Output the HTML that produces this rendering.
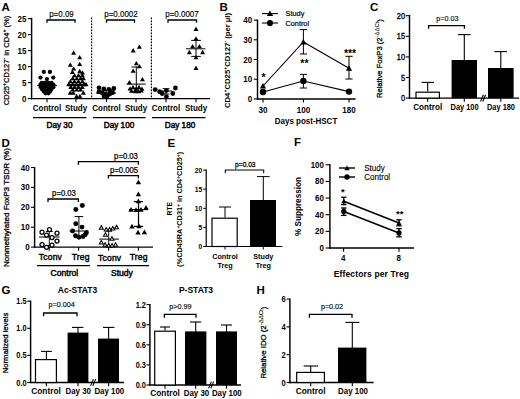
<!DOCTYPE html>
<html><head><meta charset="utf-8"><title>Figure</title>
<style>
html,body{margin:0;padding:0;background:#fff;}
svg{display:block;font-family:"Liberation Sans",sans-serif;}
text{fill:#000;}
</style></head><body>
<svg width="520" height="399" viewBox="0 0 520 399">
<rect width="520" height="399" fill="#fff"/>
<text transform="translate(1.50,10.50)" font-size="11.5" font-weight="bold" text-anchor="start" >A</text>
<text transform="translate(219.50,10.50)" font-size="11.5" font-weight="bold" text-anchor="start" >B</text>
<text transform="translate(370.00,10.50)" font-size="11.5" font-weight="bold" text-anchor="start" >C</text>
<text transform="translate(1.50,146.50)" font-size="11.5" font-weight="bold" text-anchor="start" >D</text>
<text transform="translate(167.50,146.50)" font-size="11.5" font-weight="bold" text-anchor="start" >E</text>
<text transform="translate(294.00,145.50)" font-size="11.5" font-weight="bold" text-anchor="start" >F</text>
<text transform="translate(1.50,293.50)" font-size="11.5" font-weight="bold" text-anchor="start" >G</text>
<text transform="translate(256.50,293.50)" font-size="11.5" font-weight="bold" text-anchor="start" >H</text>
<line x1="31.60" y1="17.80" x2="31.60" y2="99.25" stroke="#000" stroke-width="1.45" />
<line x1="30.95" y1="98.60" x2="210.00" y2="98.60" stroke="#000" stroke-width="1.45" />
<line x1="27.90" y1="98.60" x2="31.60" y2="98.60" stroke="#000" stroke-width="1.1" />
<text transform="translate(26.50,101.60) scale(0.94,1)" font-size="8.5" font-weight="bold" text-anchor="end" >0</text>
<line x1="27.90" y1="82.60" x2="31.60" y2="82.60" stroke="#000" stroke-width="1.1" />
<text transform="translate(26.50,85.60) scale(0.94,1)" font-size="8.5" font-weight="bold" text-anchor="end" >5</text>
<line x1="27.90" y1="66.60" x2="31.60" y2="66.60" stroke="#000" stroke-width="1.1" />
<text transform="translate(26.50,69.60) scale(0.94,1)" font-size="8.5" font-weight="bold" text-anchor="end" >10</text>
<line x1="27.90" y1="50.60" x2="31.60" y2="50.60" stroke="#000" stroke-width="1.1" />
<text transform="translate(26.50,53.60) scale(0.94,1)" font-size="8.5" font-weight="bold" text-anchor="end" >15</text>
<line x1="27.90" y1="34.60" x2="31.60" y2="34.60" stroke="#000" stroke-width="1.1" />
<text transform="translate(26.50,37.60) scale(0.94,1)" font-size="8.5" font-weight="bold" text-anchor="end" >20</text>
<line x1="27.90" y1="18.60" x2="31.60" y2="18.60" stroke="#000" stroke-width="1.1" />
<text transform="translate(26.50,21.60) scale(0.94,1)" font-size="8.5" font-weight="bold" text-anchor="end" >25</text>
<text transform="translate(9.30,105.25) rotate(-90)" font-size="8" font-weight="normal" text-anchor="start" textLength="89.5" lengthAdjust="spacingAndGlyphs" stroke="#000" stroke-width="0.25">CD25<tspan font-size="5.5" dy="-3">+</tspan><tspan dy="3">CD127</tspan><tspan font-size="5.5" dy="-3">-</tspan><tspan dy="3"> in CD4</tspan><tspan font-size="5.5" dy="-3">+</tspan><tspan dy="3"> (%)</tspan></text>
<line x1="91.60" y1="17.50" x2="91.60" y2="98.60" stroke="#000" stroke-width="1.2" stroke-dasharray="1.7,1.3"/>
<line x1="151.40" y1="17.50" x2="151.40" y2="98.60" stroke="#000" stroke-width="1.2" stroke-dasharray="1.7,1.3"/>
<line x1="47.00" y1="98.60" x2="47.00" y2="102.30" stroke="#000" stroke-width="1.1" />
<text transform="translate(47.00,111.30) scale(0.94,1)" font-size="8.5" font-weight="bold" text-anchor="middle" >Control</text>
<line x1="76.00" y1="98.60" x2="76.00" y2="102.30" stroke="#000" stroke-width="1.1" />
<text transform="translate(76.00,111.30) scale(0.94,1)" font-size="8.5" font-weight="bold" text-anchor="middle" >Study</text>
<line x1="106.50" y1="98.60" x2="106.50" y2="102.30" stroke="#000" stroke-width="1.1" />
<text transform="translate(106.50,111.30) scale(0.94,1)" font-size="8.5" font-weight="bold" text-anchor="middle" >Control</text>
<line x1="136.00" y1="98.60" x2="136.00" y2="102.30" stroke="#000" stroke-width="1.1" />
<text transform="translate(136.00,111.30) scale(0.94,1)" font-size="8.5" font-weight="bold" text-anchor="middle" >Study</text>
<line x1="166.00" y1="98.60" x2="166.00" y2="102.30" stroke="#000" stroke-width="1.1" />
<text transform="translate(166.00,111.30) scale(0.94,1)" font-size="8.5" font-weight="bold" text-anchor="middle" >Control</text>
<line x1="196.00" y1="98.60" x2="196.00" y2="102.30" stroke="#000" stroke-width="1.1" />
<text transform="translate(196.00,111.30) scale(0.94,1)" font-size="8.5" font-weight="bold" text-anchor="middle" >Study</text>
<line x1="33.00" y1="117.70" x2="86.50" y2="117.70" stroke="#000" stroke-width="1.25" />
<text transform="translate(59.50,128.30)" font-size="8.2" font-weight="normal" text-anchor="middle" stroke="#000" stroke-width="0.45">Day 30</text>
<line x1="93.00" y1="117.70" x2="145.50" y2="117.70" stroke="#000" stroke-width="1.25" />
<text transform="translate(119.00,128.30)" font-size="8.2" font-weight="normal" text-anchor="middle" stroke="#000" stroke-width="0.45">Day 100</text>
<line x1="152.00" y1="117.70" x2="205.50" y2="117.70" stroke="#000" stroke-width="1.25" />
<text transform="translate(180.00,128.30)" font-size="8.2" font-weight="normal" text-anchor="middle" stroke="#000" stroke-width="0.45">Day 180</text>
<text transform="translate(61.50,16.60) scale(0.95,1)" font-size="8.4" font-weight="normal" text-anchor="middle" stroke="#000" stroke-width="0.15">p=0.09</text>
<polyline points="47.00,22.80 47.00,20.00 75.00,20.00 75.00,22.80" fill="none" stroke="#000" stroke-width="1.3"/>
<text transform="translate(121.00,16.60) scale(0.95,1)" font-size="8.4" font-weight="normal" text-anchor="middle" stroke="#000" stroke-width="0.15">p=0.0002</text>
<polyline points="106.50,22.80 106.50,20.00 134.50,20.00 134.50,22.80" fill="none" stroke="#000" stroke-width="1.3"/>
<text transform="translate(182.00,16.60) scale(0.95,1)" font-size="8.4" font-weight="normal" text-anchor="middle" stroke="#000" stroke-width="0.15">p=0.0007</text>
<polyline points="168.00,22.80 168.00,20.00 196.50,20.00 196.50,22.80" fill="none" stroke="#000" stroke-width="1.3"/>
<circle cx="43.80" cy="71.90" r="2.15" fill="#000"/>
<circle cx="49.90" cy="71.90" r="2.15" fill="#000"/>
<circle cx="40.50" cy="77.60" r="2.15" fill="#000"/>
<circle cx="53.30" cy="77.60" r="2.15" fill="#000"/>
<circle cx="46.90" cy="79.10" r="2.15" fill="#000"/>
<circle cx="41.60" cy="82.80" r="2.15" fill="#000"/>
<circle cx="44.90" cy="82.80" r="2.15" fill="#000"/>
<circle cx="48.20" cy="82.80" r="2.15" fill="#000"/>
<circle cx="51.50" cy="82.80" r="2.15" fill="#000"/>
<circle cx="40.30" cy="85.00" r="2.15" fill="#000"/>
<circle cx="43.60" cy="85.00" r="2.15" fill="#000"/>
<circle cx="46.90" cy="85.00" r="2.15" fill="#000"/>
<circle cx="50.20" cy="85.00" r="2.15" fill="#000"/>
<circle cx="53.50" cy="85.00" r="2.15" fill="#000"/>
<circle cx="40.90" cy="87.20" r="2.15" fill="#000"/>
<circle cx="44.10" cy="87.20" r="2.15" fill="#000"/>
<circle cx="47.30" cy="87.20" r="2.15" fill="#000"/>
<circle cx="50.50" cy="87.20" r="2.15" fill="#000"/>
<circle cx="53.30" cy="87.20" r="2.15" fill="#000"/>
<circle cx="42.20" cy="89.40" r="2.15" fill="#000"/>
<circle cx="45.20" cy="89.40" r="2.15" fill="#000"/>
<circle cx="48.20" cy="89.40" r="2.15" fill="#000"/>
<circle cx="51.20" cy="89.40" r="2.15" fill="#000"/>
<circle cx="44.00" cy="91.50" r="2.15" fill="#000"/>
<circle cx="47.00" cy="91.50" r="2.15" fill="#000"/>
<circle cx="50.00" cy="91.50" r="2.15" fill="#000"/>
<circle cx="45.60" cy="93.30" r="2.15" fill="#000"/>
<circle cx="48.40" cy="93.30" r="2.15" fill="#000"/>
<line x1="37.20" y1="85.60" x2="57.00" y2="85.60" stroke="#000" stroke-width="1.0" />
<polygon points="73.60,50.39 71.10,54.77 76.10,54.77" fill="#000"/>
<polygon points="79.70,54.89 77.20,59.27 82.20,59.27" fill="#000"/>
<polygon points="70.30,62.39 67.80,66.77 72.80,66.77" fill="#000"/>
<polygon points="79.70,61.69 77.20,66.07 82.20,66.07" fill="#000"/>
<polygon points="73.60,66.19 71.10,70.57 76.10,70.57" fill="#000"/>
<polygon points="72.40,69.59 69.90,73.97 74.90,73.97" fill="#000"/>
<polygon points="79.70,68.79 77.20,73.17 82.20,73.17" fill="#000"/>
<polygon points="82.50,70.19 80.00,74.57 85.00,74.57" fill="#000"/>
<polygon points="74.50,72.99 72.00,77.37 77.00,77.37" fill="#000"/>
<polygon points="78.50,72.99 76.00,77.37 81.00,77.37" fill="#000"/>
<polygon points="82.30,72.99 79.80,77.37 84.80,77.37" fill="#000"/>
<polygon points="72.80,75.99 70.30,80.37 75.30,80.37" fill="#000"/>
<polygon points="76.80,75.99 74.30,80.37 79.30,80.37" fill="#000"/>
<polygon points="80.60,75.99 78.10,80.37 83.10,80.37" fill="#000"/>
<polygon points="83.40,75.99 80.90,80.37 85.90,80.37" fill="#000"/>
<polygon points="70.40,78.99 67.90,83.37 72.90,83.37" fill="#000"/>
<polygon points="74.40,78.99 71.90,83.37 76.90,83.37" fill="#000"/>
<polygon points="78.40,78.99 75.90,83.37 80.90,83.37" fill="#000"/>
<polygon points="82.40,78.99 79.90,83.37 84.90,83.37" fill="#000"/>
<polygon points="68.80,81.79 66.30,86.17 71.30,86.17" fill="#000"/>
<polygon points="72.60,81.79 70.10,86.17 75.10,86.17" fill="#000"/>
<polygon points="76.40,81.79 73.90,86.17 78.90,86.17" fill="#000"/>
<polygon points="80.20,81.79 77.70,86.17 82.70,86.17" fill="#000"/>
<polygon points="84.00,81.79 81.50,86.17 86.50,86.17" fill="#000"/>
<polygon points="86.00,81.79 83.50,86.17 88.50,86.17" fill="#000"/>
<polygon points="70.80,84.59 68.30,88.97 73.30,88.97" fill="#000"/>
<polygon points="74.60,84.59 72.10,88.97 77.10,88.97" fill="#000"/>
<polygon points="78.40,84.59 75.90,88.97 80.90,88.97" fill="#000"/>
<polygon points="82.20,84.59 79.70,88.97 84.70,88.97" fill="#000"/>
<polygon points="72.80,87.19 70.30,91.57 75.30,91.57" fill="#000"/>
<polygon points="76.80,87.19 74.30,91.57 79.30,91.57" fill="#000"/>
<polygon points="80.60,87.19 78.10,91.57 83.10,91.57" fill="#000"/>
<polygon points="70.30,90.29 67.80,94.67 72.80,94.67" fill="#000"/>
<polygon points="73.30,90.49 70.80,94.87 75.80,94.87" fill="#000"/>
<polygon points="83.40,90.29 80.90,94.67 85.90,94.67" fill="#000"/>
<polygon points="76.60,93.79 74.10,98.17 79.10,98.17" fill="#000"/>
<polygon points="79.90,93.79 77.40,98.17 82.40,98.17" fill="#000"/>
<line x1="66.90" y1="84.40" x2="86.40" y2="84.40" stroke="#000" stroke-width="1.0" />
<circle cx="99.00" cy="87.80" r="2.4" fill="#000"/>
<circle cx="103.80" cy="88.90" r="2.4" fill="#000"/>
<circle cx="108.80" cy="89.40" r="2.4" fill="#000"/>
<circle cx="113.80" cy="88.50" r="2.4" fill="#000"/>
<circle cx="99.00" cy="91.90" r="2.4" fill="#000"/>
<circle cx="102.00" cy="92.70" r="2.4" fill="#000"/>
<circle cx="112.60" cy="92.70" r="2.4" fill="#000"/>
<circle cx="105.00" cy="93.90" r="2.4" fill="#000"/>
<circle cx="109.60" cy="94.20" r="2.4" fill="#000"/>
<circle cx="106.90" cy="96.20" r="2.4" fill="#000"/>
<circle cx="104.00" cy="96.00" r="2.4" fill="#000"/>
<circle cx="110.50" cy="91.50" r="2.4" fill="#000"/>
<line x1="96.00" y1="93.00" x2="116.30" y2="93.00" stroke="#000" stroke-width="1.0" />
<line x1="106.30" y1="90.50" x2="106.30" y2="95.50" stroke="#000" stroke-width="0.9" />
<line x1="102.80" y1="90.50" x2="109.80" y2="90.50" stroke="#000" stroke-width="0.9" />
<line x1="102.80" y1="95.50" x2="109.80" y2="95.50" stroke="#000" stroke-width="0.9" />
<polygon points="139.40,44.39 136.90,48.77 141.90,48.77" fill="#000"/>
<polygon points="133.20,48.09 130.70,52.47 135.70,52.47" fill="#000"/>
<polygon points="136.30,60.89 133.80,65.27 138.80,65.27" fill="#000"/>
<polygon points="139.40,63.89 136.90,68.27 141.90,68.27" fill="#000"/>
<polygon points="133.20,68.39 130.70,72.77 135.70,72.77" fill="#000"/>
<polygon points="142.40,76.99 139.90,81.37 144.90,81.37" fill="#000"/>
<polygon points="129.40,79.99 126.90,84.37 131.90,84.37" fill="#000"/>
<polygon points="130.00,86.19 127.50,90.57 132.50,90.57" fill="#000"/>
<polygon points="133.00,84.79 130.50,89.17 135.50,89.17" fill="#000"/>
<polygon points="136.00,86.39 133.50,90.77 138.50,90.77" fill="#000"/>
<polygon points="139.00,84.79 136.50,89.17 141.50,89.17" fill="#000"/>
<polygon points="142.00,86.39 139.50,90.77 144.50,90.77" fill="#000"/>
<polygon points="131.50,88.39 129.00,92.77 134.00,92.77" fill="#000"/>
<polygon points="135.00,88.79 132.50,93.17 137.50,93.17" fill="#000"/>
<polygon points="138.50,88.79 136.00,93.17 141.00,93.17" fill="#000"/>
<polygon points="141.20,88.19 138.70,92.57 143.70,92.57" fill="#000"/>
<line x1="126.60" y1="84.10" x2="145.70" y2="84.10" stroke="#000" stroke-width="1.0" />
<line x1="136.30" y1="67.00" x2="136.30" y2="92.00" stroke="#000" stroke-width="1.0" />
<line x1="131.50" y1="67.00" x2="141.10" y2="67.00" stroke="#000" stroke-width="1.0" />
<line x1="131.50" y1="92.00" x2="141.10" y2="92.00" stroke="#000" stroke-width="1.0" />
<circle cx="155.20" cy="89.60" r="2.4" fill="#000"/>
<circle cx="175.40" cy="88.00" r="2.4" fill="#000"/>
<circle cx="159.60" cy="91.70" r="2.4" fill="#000"/>
<circle cx="166.40" cy="90.60" r="2.4" fill="#000"/>
<circle cx="162.20" cy="93.50" r="2.4" fill="#000"/>
<circle cx="172.80" cy="93.50" r="2.4" fill="#000"/>
<circle cx="166.40" cy="96.60" r="2.4" fill="#000"/>
<line x1="160.00" y1="91.00" x2="172.00" y2="91.00" stroke="#000" stroke-width="1.0" />
<line x1="166.00" y1="88.60" x2="166.00" y2="94.00" stroke="#000" stroke-width="0.9" />
<line x1="162.50" y1="88.60" x2="169.50" y2="88.60" stroke="#000" stroke-width="0.9" />
<line x1="162.50" y1="94.00" x2="169.50" y2="94.00" stroke="#000" stroke-width="0.9" />
<polygon points="196.00,26.59 193.50,30.97 198.50,30.97" fill="#000"/>
<polygon points="196.00,36.19 193.50,40.57 198.50,40.57" fill="#000"/>
<polygon points="192.60,43.99 190.10,48.37 195.10,48.37" fill="#000"/>
<polygon points="199.40,43.99 196.90,48.37 201.90,48.37" fill="#000"/>
<polygon points="189.30,49.79 186.80,54.17 191.80,54.17" fill="#000"/>
<polygon points="202.60,49.79 200.10,54.17 205.10,54.17" fill="#000"/>
<polygon points="196.00,54.99 193.50,59.37 198.50,59.37" fill="#000"/>
<polygon points="196.00,65.59 193.50,69.97 198.50,69.97" fill="#000"/>
<line x1="186.00" y1="48.80" x2="205.30" y2="48.80" stroke="#000" stroke-width="1.0" />
<line x1="196.00" y1="40.40" x2="196.00" y2="56.40" stroke="#000" stroke-width="1.0" />
<line x1="191.20" y1="40.40" x2="200.80" y2="40.40" stroke="#000" stroke-width="1.0" />
<line x1="191.20" y1="56.40" x2="200.80" y2="56.40" stroke="#000" stroke-width="1.0" />
<line x1="257.50" y1="19.50" x2="257.50" y2="99.55" stroke="#000" stroke-width="1.45" />
<line x1="256.85" y1="98.90" x2="355.60" y2="98.90" stroke="#000" stroke-width="1.45" />
<line x1="253.80" y1="98.90" x2="257.50" y2="98.90" stroke="#000" stroke-width="1.1" />
<text transform="translate(252.20,101.90) scale(0.94,1)" font-size="8.5" font-weight="bold" text-anchor="end" >0</text>
<line x1="253.80" y1="79.20" x2="257.50" y2="79.20" stroke="#000" stroke-width="1.1" />
<text transform="translate(252.20,82.20) scale(0.94,1)" font-size="8.5" font-weight="bold" text-anchor="end" >10</text>
<line x1="253.80" y1="59.50" x2="257.50" y2="59.50" stroke="#000" stroke-width="1.1" />
<text transform="translate(252.20,62.50) scale(0.94,1)" font-size="8.5" font-weight="bold" text-anchor="end" >20</text>
<line x1="253.80" y1="39.80" x2="257.50" y2="39.80" stroke="#000" stroke-width="1.1" />
<text transform="translate(252.20,42.80) scale(0.94,1)" font-size="8.5" font-weight="bold" text-anchor="end" >30</text>
<line x1="253.80" y1="20.10" x2="257.50" y2="20.10" stroke="#000" stroke-width="1.1" />
<text transform="translate(252.20,23.10) scale(0.94,1)" font-size="8.5" font-weight="bold" text-anchor="end" >40</text>
<line x1="263.00" y1="98.90" x2="263.00" y2="102.60" stroke="#000" stroke-width="1.1" />
<text transform="translate(263.00,112.70) scale(0.94,1)" font-size="8.6" font-weight="bold" text-anchor="middle" >30</text>
<line x1="303.40" y1="98.90" x2="303.40" y2="102.60" stroke="#000" stroke-width="1.1" />
<text transform="translate(303.40,112.70) scale(0.94,1)" font-size="8.6" font-weight="bold" text-anchor="middle" >100</text>
<line x1="349.00" y1="98.90" x2="349.00" y2="102.60" stroke="#000" stroke-width="1.1" />
<text transform="translate(349.00,112.70) scale(0.94,1)" font-size="8.6" font-weight="bold" text-anchor="middle" >180</text>
<text transform="translate(306.00,124.10) scale(0.94,1)" font-size="8.5" font-weight="bold" text-anchor="middle" >Days post-HSCT</text>
<text transform="translate(230.20,108.00) rotate(-90)" font-size="8" font-weight="bold" text-anchor="start" textLength="95" lengthAdjust="spacingAndGlyphs">CD4<tspan font-size="5.5" dy="-3">+</tspan><tspan dy="3">CD25</tspan><tspan font-size="5.5" dy="-3">+</tspan><tspan dy="3">CD127</tspan><tspan font-size="5.5" dy="-3">-</tspan><tspan dy="3"> (per &#181;l)</tspan></text>
<line x1="262.00" y1="13.60" x2="278.00" y2="13.60" stroke="#000" stroke-width="1.1" />
<polygon points="270.00,10.52 266.80,16.12 273.20,16.12" fill="#000"/>
<line x1="262.00" y1="23.00" x2="278.00" y2="23.00" stroke="#000" stroke-width="1.1" />
<circle cx="270.00" cy="23.00" r="3.1" fill="#000"/>
<text transform="translate(285.50,16.30)" font-size="7.3" font-weight="normal" text-anchor="start" letter-spacing="0.05" stroke="#000" stroke-width="0.2">Study</text>
<text transform="translate(285.50,25.70)" font-size="7.3" font-weight="normal" text-anchor="start" stroke="#000" stroke-width="0.2">Control</text>
<polyline points="263,86 303.4,42 349,68.3" fill="none" stroke="#000" stroke-width="1.1"/>
<polyline points="263,92 303.4,81 349,91.6" fill="none" stroke="#000" stroke-width="1.1"/>
<line x1="303.40" y1="29.60" x2="303.40" y2="54.00" stroke="#000" stroke-width="1.0" />
<line x1="299.80" y1="29.60" x2="307.00" y2="29.60" stroke="#000" stroke-width="1.0" />
<line x1="299.80" y1="54.00" x2="307.00" y2="54.00" stroke="#000" stroke-width="1.0" />
<line x1="349.00" y1="56.30" x2="349.00" y2="79.00" stroke="#000" stroke-width="1.0" />
<line x1="345.40" y1="56.30" x2="352.60" y2="56.30" stroke="#000" stroke-width="1.0" />
<line x1="345.40" y1="79.00" x2="352.60" y2="79.00" stroke="#000" stroke-width="1.0" />
<line x1="303.40" y1="74.40" x2="303.40" y2="88.00" stroke="#000" stroke-width="1.0" />
<line x1="299.80" y1="74.40" x2="307.00" y2="74.40" stroke="#000" stroke-width="1.0" />
<line x1="299.80" y1="88.00" x2="307.00" y2="88.00" stroke="#000" stroke-width="1.0" />
<polygon points="263.00,83.02 259.90,88.44 266.10,88.44" fill="#000"/>
<polygon points="303.40,39.02 300.30,44.44 306.50,44.44" fill="#000"/>
<polygon points="349.00,65.32 345.90,70.74 352.10,70.74" fill="#000"/>
<circle cx="263.00" cy="92.00" r="3.2" fill="#000"/>
<circle cx="303.40" cy="81.00" r="3.2" fill="#000"/>
<circle cx="349.00" cy="91.60" r="3.2" fill="#000"/>
<text transform="translate(263.60,80.50)" font-size="10.5" font-weight="bold" text-anchor="middle" >*</text>
<text transform="translate(304.40,66.50)" font-size="10.5" font-weight="bold" text-anchor="middle" >**</text>
<text transform="translate(350.00,57.30)" font-size="10.5" font-weight="bold" text-anchor="middle" >***</text>
<line x1="409.50" y1="15.00" x2="409.50" y2="98.75" stroke="#000" stroke-width="1.45" />
<line x1="408.85" y1="98.10" x2="519.00" y2="98.10" stroke="#000" stroke-width="1.45" />
<line x1="405.80" y1="98.10" x2="409.50" y2="98.10" stroke="#000" stroke-width="1.1" />
<text transform="translate(405.00,101.10) scale(0.86,1)" font-size="8.6" font-weight="normal" text-anchor="end" stroke="#000" stroke-width="0.35">0</text>
<line x1="405.80" y1="77.50" x2="409.50" y2="77.50" stroke="#000" stroke-width="1.1" />
<text transform="translate(405.00,80.50) scale(0.86,1)" font-size="8.6" font-weight="normal" text-anchor="end" stroke="#000" stroke-width="0.35">5</text>
<line x1="405.80" y1="56.90" x2="409.50" y2="56.90" stroke="#000" stroke-width="1.1" />
<text transform="translate(405.00,59.90) scale(0.86,1)" font-size="8.6" font-weight="normal" text-anchor="end" stroke="#000" stroke-width="0.35">10</text>
<line x1="405.80" y1="36.30" x2="409.50" y2="36.30" stroke="#000" stroke-width="1.1" />
<text transform="translate(405.00,39.30) scale(0.86,1)" font-size="8.6" font-weight="normal" text-anchor="end" stroke="#000" stroke-width="0.35">15</text>
<line x1="405.80" y1="15.70" x2="409.50" y2="15.70" stroke="#000" stroke-width="1.1" />
<text transform="translate(405.00,18.70) scale(0.86,1)" font-size="8.6" font-weight="normal" text-anchor="end" stroke="#000" stroke-width="0.35">20</text>
<text transform="translate(382.00,98.10) rotate(-90)" font-size="8" font-weight="normal" text-anchor="start" textLength="79" lengthAdjust="spacingAndGlyphs" stroke="#000" stroke-width="0.3">Relative FoxP3 (2<tspan font-size="6.2" dy="-3" stroke-width="0.1">-&#916;&#916;Ct</tspan><tspan dy="3">)</tspan></text>
<rect x="416.00" y="92.20" width="23.40" height="5.90" fill="#fff" stroke="#000" stroke-width="1.2"/>
<line x1="427.70" y1="82.40" x2="427.70" y2="91.60" stroke="#000" stroke-width="1.1" />
<line x1="421.60" y1="82.40" x2="434.00" y2="82.40" stroke="#000" stroke-width="1.1" />
<rect x="451.60" y="60.00" width="25.40" height="38.10" fill="#000"/>
<line x1="464.30" y1="34.60" x2="464.30" y2="60.00" stroke="#000" stroke-width="1.1" />
<line x1="458.00" y1="34.60" x2="470.50" y2="34.60" stroke="#000" stroke-width="1.1" />
<rect x="488.00" y="68.00" width="25.60" height="30.10" fill="#000"/>
<line x1="500.80" y1="51.60" x2="500.80" y2="68.00" stroke="#000" stroke-width="1.1" />
<line x1="494.40" y1="51.60" x2="507.00" y2="51.60" stroke="#000" stroke-width="1.1" />
<line x1="427.70" y1="98.10" x2="427.70" y2="101.80" stroke="#000" stroke-width="1.1" />
<text transform="translate(427.70,109.70) scale(0.95,1)" font-size="8.6" font-weight="bold" text-anchor="middle" >Control</text>
<line x1="464.30" y1="98.10" x2="464.30" y2="101.80" stroke="#000" stroke-width="1.1" />
<text transform="translate(464.60,109.70) scale(0.86,1)" font-size="8.6" font-weight="bold" text-anchor="middle" >Day 100</text>
<line x1="500.80" y1="98.10" x2="500.80" y2="101.80" stroke="#000" stroke-width="1.1" />
<text transform="translate(501.00,109.70) scale(0.86,1)" font-size="8.6" font-weight="bold" text-anchor="middle" >Day 180</text>
<line x1="480.60" y1="101.50" x2="483.40" y2="94.70" stroke="#000" stroke-width="1.1" />
<line x1="482.80" y1="101.50" x2="485.60" y2="94.70" stroke="#000" stroke-width="1.1" />
<text transform="translate(447.30,21.00) scale(0.9,1)" font-size="8" font-weight="normal" text-anchor="middle" stroke="#000" stroke-width="0.15">p=0.03</text>
<polyline points="428.60,28.80 428.60,25.60 464.40,25.60 464.40,28.80" fill="none" stroke="#000" stroke-width="1.3"/>
<line x1="34.60" y1="167.00" x2="34.60" y2="247.75" stroke="#000" stroke-width="1.45" />
<line x1="33.95" y1="247.10" x2="153.00" y2="247.10" stroke="#000" stroke-width="1.45" />
<line x1="30.90" y1="247.10" x2="34.60" y2="247.10" stroke="#000" stroke-width="1.1" />
<text transform="translate(29.70,250.10) scale(0.94,1)" font-size="8.5" font-weight="bold" text-anchor="end" >0</text>
<line x1="30.90" y1="227.20" x2="34.60" y2="227.20" stroke="#000" stroke-width="1.1" />
<text transform="translate(29.70,230.20) scale(0.94,1)" font-size="8.5" font-weight="bold" text-anchor="end" >10</text>
<line x1="30.90" y1="207.30" x2="34.60" y2="207.30" stroke="#000" stroke-width="1.1" />
<text transform="translate(29.70,210.30) scale(0.94,1)" font-size="8.5" font-weight="bold" text-anchor="end" >20</text>
<line x1="30.90" y1="187.40" x2="34.60" y2="187.40" stroke="#000" stroke-width="1.1" />
<text transform="translate(29.70,190.40) scale(0.94,1)" font-size="8.5" font-weight="bold" text-anchor="end" >30</text>
<line x1="30.90" y1="167.50" x2="34.60" y2="167.50" stroke="#000" stroke-width="1.1" />
<text transform="translate(29.70,170.50) scale(0.94,1)" font-size="8.5" font-weight="bold" text-anchor="end" >40</text>
<text transform="translate(8.60,267.00) rotate(-90)" font-size="8" font-weight="normal" text-anchor="start" textLength="119" lengthAdjust="spacingAndGlyphs" stroke="#000" stroke-width="0.3">Nonmethylated FoxP3 TSDR (%)</text>
<line x1="49.20" y1="247.10" x2="49.20" y2="250.80" stroke="#000" stroke-width="1.1" />
<line x1="78.60" y1="247.10" x2="78.60" y2="250.80" stroke="#000" stroke-width="1.1" />
<line x1="108.60" y1="247.10" x2="108.60" y2="250.80" stroke="#000" stroke-width="1.1" />
<line x1="138.40" y1="247.10" x2="138.40" y2="250.80" stroke="#000" stroke-width="1.1" />
<text transform="translate(50.40,259.70)" font-size="8.6" font-weight="normal" text-anchor="middle" letter-spacing="0.15" stroke="#000" stroke-width="0.4">Tconv</text>
<text transform="translate(80.70,259.50)" font-size="8.6" font-weight="normal" text-anchor="middle" letter-spacing="0.15" stroke="#000" stroke-width="0.4">Treg</text>
<text transform="translate(109.70,260.70)" font-size="8.6" font-weight="normal" text-anchor="middle" letter-spacing="0.15" stroke="#000" stroke-width="0.4">Tconv</text>
<text transform="translate(138.60,259.50)" font-size="8.6" font-weight="normal" text-anchor="middle" letter-spacing="0.15" stroke="#000" stroke-width="0.4">Treg</text>
<line x1="37.00" y1="265.70" x2="90.00" y2="265.70" stroke="#000" stroke-width="1.25" />
<line x1="97.00" y1="265.70" x2="149.00" y2="265.70" stroke="#000" stroke-width="1.25" />
<text transform="translate(64.40,276.00)" font-size="8.6" font-weight="normal" text-anchor="middle" stroke="#000" stroke-width="0.45">Control</text>
<text transform="translate(121.90,276.00)" font-size="8.6" font-weight="normal" text-anchor="middle" stroke="#000" stroke-width="0.45">Study</text>
<text transform="translate(64.00,196.00) scale(0.93,1)" font-size="8.3" font-weight="normal" text-anchor="middle" stroke="#000" stroke-width="0.25">p=0.03</text>
<polyline points="48.00,202.00 48.00,199.00 78.40,199.00 78.40,202.00" fill="none" stroke="#000" stroke-width="1.3"/>
<text transform="translate(126.00,159.30) scale(0.93,1)" font-size="8.3" font-weight="normal" text-anchor="middle" stroke="#000" stroke-width="0.25">p=0.03</text>
<polyline points="78.40,164.80 78.40,161.60 138.40,161.60 138.40,164.80" fill="none" stroke="#000" stroke-width="1.3"/>
<text transform="translate(124.00,173.30) scale(0.93,1)" font-size="8.3" font-weight="normal" text-anchor="middle" stroke="#000" stroke-width="0.25">p=0.005</text>
<polyline points="108.40,178.60 108.40,175.60 138.40,175.60 138.40,178.60" fill="none" stroke="#000" stroke-width="1.3"/>
<line x1="39.00" y1="237.00" x2="59.60" y2="237.00" stroke="#000" stroke-width="1.0" />
<line x1="49.30" y1="231.50" x2="49.30" y2="245.50" stroke="#000" stroke-width="0.9" />
<line x1="45.80" y1="231.50" x2="52.80" y2="231.50" stroke="#000" stroke-width="0.9" />
<line x1="45.80" y1="245.50" x2="52.80" y2="245.50" stroke="#000" stroke-width="0.9" />
<circle cx="49.50" cy="229.50" r="2.0" fill="#fff" stroke="#000" stroke-width="1.25"/>
<circle cx="42.00" cy="232.20" r="2.0" fill="#fff" stroke="#000" stroke-width="1.25"/>
<circle cx="57.00" cy="233.20" r="2.0" fill="#fff" stroke="#000" stroke-width="1.25"/>
<circle cx="46.50" cy="235.00" r="2.0" fill="#fff" stroke="#000" stroke-width="1.25"/>
<circle cx="52.00" cy="237.50" r="2.0" fill="#fff" stroke="#000" stroke-width="1.25"/>
<circle cx="57.00" cy="241.00" r="2.0" fill="#fff" stroke="#000" stroke-width="1.25"/>
<circle cx="42.00" cy="244.50" r="2.0" fill="#fff" stroke="#000" stroke-width="1.25"/>
<circle cx="52.00" cy="245.00" r="2.0" fill="#fff" stroke="#000" stroke-width="1.25"/>
<circle cx="46.50" cy="247.30" r="2.0" fill="#fff" stroke="#000" stroke-width="1.25"/>
<line x1="69.50" y1="231.00" x2="88.40" y2="231.00" stroke="#000" stroke-width="1.0" />
<line x1="78.90" y1="216.60" x2="78.90" y2="237.00" stroke="#000" stroke-width="1.0" />
<line x1="74.60" y1="216.60" x2="83.20" y2="216.60" stroke="#000" stroke-width="1.0" />
<line x1="74.60" y1="237.00" x2="83.20" y2="237.00" stroke="#000" stroke-width="1.0" />
<circle cx="82.30" cy="205.50" r="2.45" fill="#000"/>
<circle cx="75.80" cy="209.50" r="2.45" fill="#000"/>
<circle cx="75.80" cy="223.70" r="2.45" fill="#000"/>
<circle cx="82.00" cy="227.10" r="2.45" fill="#000"/>
<circle cx="72.60" cy="230.90" r="2.45" fill="#000"/>
<circle cx="86.40" cy="232.80" r="2.45" fill="#000"/>
<circle cx="75.50" cy="235.70" r="2.45" fill="#000"/>
<circle cx="78.90" cy="237.20" r="2.45" fill="#000"/>
<circle cx="83.00" cy="236.50" r="2.45" fill="#000"/>
<circle cx="85.20" cy="234.80" r="2.45" fill="#000"/>
<line x1="99.30" y1="239.10" x2="118.90" y2="239.10" stroke="#000" stroke-width="1.0" />
<line x1="108.70" y1="231.00" x2="108.70" y2="246.60" stroke="#000" stroke-width="0.9" />
<line x1="105.40" y1="231.00" x2="112.00" y2="231.00" stroke="#000" stroke-width="0.9" />
<line x1="105.40" y1="246.60" x2="112.00" y2="246.60" stroke="#000" stroke-width="0.9" />
<polygon points="101.30,225.67 99.30,229.17 103.30,229.17" fill="#fff" stroke="#000" stroke-width="1.05"/>
<polygon points="106.20,227.47 104.20,230.97 108.20,230.97" fill="#fff" stroke="#000" stroke-width="1.05"/>
<polygon points="109.60,227.47 107.60,230.97 111.60,230.97" fill="#fff" stroke="#000" stroke-width="1.05"/>
<polygon points="112.80,226.57 110.80,230.07 114.80,230.07" fill="#fff" stroke="#000" stroke-width="1.05"/>
<polygon points="116.50,225.27 114.50,228.77 118.50,228.77" fill="#fff" stroke="#000" stroke-width="1.05"/>
<polygon points="105.40,232.67 103.40,236.17 107.40,236.17" fill="#fff" stroke="#000" stroke-width="1.05"/>
<polygon points="111.90,236.67 109.90,240.17 113.90,240.17" fill="#fff" stroke="#000" stroke-width="1.05"/>
<polygon points="101.30,240.47 99.30,243.97 103.30,243.97" fill="#fff" stroke="#000" stroke-width="1.05"/>
<polygon points="105.10,242.77 103.10,246.27 107.10,246.27" fill="#fff" stroke="#000" stroke-width="1.05"/>
<polygon points="108.70,243.47 106.70,246.97 110.70,246.97" fill="#fff" stroke="#000" stroke-width="1.05"/>
<polygon points="112.10,243.47 110.10,246.97 114.10,246.97" fill="#fff" stroke="#000" stroke-width="1.05"/>
<polygon points="115.50,242.77 113.50,246.27 117.50,246.27" fill="#fff" stroke="#000" stroke-width="1.05"/>
<line x1="129.00" y1="209.60" x2="148.00" y2="209.60" stroke="#000" stroke-width="1.1" />
<line x1="138.50" y1="201.60" x2="138.50" y2="226.40" stroke="#000" stroke-width="1.25" />
<line x1="133.90" y1="201.60" x2="143.10" y2="201.60" stroke="#000" stroke-width="1.25" />
<line x1="133.90" y1="226.40" x2="143.10" y2="226.40" stroke="#000" stroke-width="1.25" />
<polygon points="138.40,179.40 135.70,184.13 141.10,184.13" fill="#000"/>
<polygon points="138.40,191.40 135.70,196.13 141.10,196.13" fill="#000"/>
<polygon points="138.40,198.60 135.70,203.33 141.10,203.33" fill="#000"/>
<polygon points="131.00,207.00 128.30,211.73 133.70,211.73" fill="#000"/>
<polygon points="136.00,207.20 133.30,211.93 138.70,211.93" fill="#000"/>
<polygon points="141.00,207.00 138.30,211.73 143.70,211.73" fill="#000"/>
<polygon points="146.00,205.00 143.30,209.73 148.70,209.73" fill="#000"/>
<polygon points="132.00,223.80 129.30,228.53 134.70,228.53" fill="#000"/>
<polygon points="139.00,223.40 136.30,228.13 141.70,228.13" fill="#000"/>
<polygon points="138.00,229.80 135.30,234.53 140.70,234.53" fill="#000"/>
<polygon points="144.40,229.40 141.70,234.13 147.10,234.13" fill="#000"/>
<line x1="206.20" y1="169.60" x2="206.20" y2="247.10" stroke="#000" stroke-width="1.2" />
<line x1="205.60" y1="246.50" x2="282.40" y2="246.50" stroke="#000" stroke-width="1.2" />
<line x1="203.20" y1="246.50" x2="206.20" y2="246.50" stroke="#000" stroke-width="1.0" />
<text transform="translate(202.20,249.00) scale(0.88,1)" font-size="7.5" font-weight="bold" text-anchor="end" >0</text>
<line x1="203.20" y1="227.40" x2="206.20" y2="227.40" stroke="#000" stroke-width="1.0" />
<text transform="translate(202.20,229.90) scale(0.88,1)" font-size="7.5" font-weight="bold" text-anchor="end" >5</text>
<line x1="203.20" y1="208.30" x2="206.20" y2="208.30" stroke="#000" stroke-width="1.0" />
<text transform="translate(202.20,210.80) scale(0.88,1)" font-size="7.5" font-weight="bold" text-anchor="end" >10</text>
<line x1="203.20" y1="189.20" x2="206.20" y2="189.20" stroke="#000" stroke-width="1.0" />
<text transform="translate(202.20,191.70) scale(0.88,1)" font-size="7.5" font-weight="bold" text-anchor="end" >15</text>
<line x1="203.20" y1="170.10" x2="206.20" y2="170.10" stroke="#000" stroke-width="1.0" />
<text transform="translate(202.20,172.60) scale(0.88,1)" font-size="7.5" font-weight="bold" text-anchor="end" >20</text>
<text transform="translate(171.80,215.45) rotate(-90)" font-size="7" font-weight="bold" text-anchor="start" textLength="13.5" lengthAdjust="spacingAndGlyphs">RTE</text>
<text transform="translate(182.30,266.80) rotate(-90)" font-size="7" font-weight="bold" text-anchor="start" textLength="115" lengthAdjust="spacingAndGlyphs">(%CD45RA<tspan font-size="4.8" dy="-2.5">+</tspan><tspan dy="2.5">CD31</tspan><tspan font-size="4.8" dy="-2.5">+</tspan><tspan dy="2.5"> in CD4</tspan><tspan font-size="4.8" dy="-2.5">+</tspan><tspan dy="2.5">CD25</tspan><tspan font-size="4.8" dy="-2.5">+</tspan><tspan dy="2.5">)</tspan></text>
<rect x="212.00" y="218.20" width="25.20" height="28.30" fill="#fff" stroke="#000" stroke-width="1.2"/>
<line x1="225.00" y1="207.00" x2="225.00" y2="217.60" stroke="#000" stroke-width="1.0" />
<line x1="219.00" y1="207.00" x2="231.00" y2="207.00" stroke="#000" stroke-width="1.0" />
<rect x="250.00" y="200.00" width="26.00" height="46.50" fill="#000"/>
<line x1="263.30" y1="176.60" x2="263.30" y2="200.00" stroke="#000" stroke-width="1.0" />
<line x1="257.00" y1="176.60" x2="269.60" y2="176.60" stroke="#000" stroke-width="1.0" />
<line x1="225.00" y1="246.50" x2="225.00" y2="249.50" stroke="#000" stroke-width="1.0" />
<text transform="translate(225.00,259.40) scale(0.96,1)" font-size="7.5" font-weight="bold" text-anchor="middle" >Control</text>
<text transform="translate(225.00,267.60) scale(0.96,1)" font-size="7.5" font-weight="bold" text-anchor="middle" >Treg</text>
<line x1="263.30" y1="246.50" x2="263.30" y2="249.50" stroke="#000" stroke-width="1.0" />
<text transform="translate(263.30,259.40) scale(0.96,1)" font-size="7.5" font-weight="bold" text-anchor="middle" >Study</text>
<text transform="translate(263.30,267.60) scale(0.96,1)" font-size="7.5" font-weight="bold" text-anchor="middle" >Treg</text>
<text transform="translate(245.30,166.50) scale(0.92,1)" font-size="7.2" font-weight="normal" text-anchor="middle" stroke="#000" stroke-width="0.28">p=0.03</text>
<polyline points="225.30,173.20 225.30,170.00 263.70,170.00 263.70,173.20" fill="none" stroke="#000" stroke-width="1.05"/>
<line x1="329.90" y1="164.00" x2="329.90" y2="248.65" stroke="#000" stroke-width="1.45" />
<line x1="329.25" y1="248.00" x2="414.00" y2="248.00" stroke="#000" stroke-width="1.45" />
<line x1="325.60" y1="248.00" x2="329.90" y2="248.00" stroke="#000" stroke-width="1.1" />
<text transform="translate(324.00,251.00) scale(0.94,1)" font-size="8.5" font-weight="bold" text-anchor="end" >0</text>
<line x1="325.60" y1="231.36" x2="329.90" y2="231.36" stroke="#000" stroke-width="1.1" />
<text transform="translate(324.00,234.36) scale(0.94,1)" font-size="8.5" font-weight="bold" text-anchor="end" >20</text>
<line x1="325.60" y1="214.72" x2="329.90" y2="214.72" stroke="#000" stroke-width="1.1" />
<text transform="translate(324.00,217.72) scale(0.94,1)" font-size="8.5" font-weight="bold" text-anchor="end" >40</text>
<line x1="325.60" y1="198.08" x2="329.90" y2="198.08" stroke="#000" stroke-width="1.1" />
<text transform="translate(324.00,201.08) scale(0.94,1)" font-size="8.5" font-weight="bold" text-anchor="end" >60</text>
<line x1="325.60" y1="181.44" x2="329.90" y2="181.44" stroke="#000" stroke-width="1.1" />
<text transform="translate(324.00,184.44) scale(0.94,1)" font-size="8.5" font-weight="bold" text-anchor="end" >80</text>
<line x1="325.60" y1="164.80" x2="329.90" y2="164.80" stroke="#000" stroke-width="1.1" />
<text transform="translate(324.00,167.80) scale(0.94,1)" font-size="8.5" font-weight="bold" text-anchor="end" >100</text>
<text transform="translate(300.80,236.00) rotate(-90)" font-size="8.3" font-weight="bold" text-anchor="start" textLength="59" lengthAdjust="spacingAndGlyphs">% Suppression</text>
<line x1="343.60" y1="248.00" x2="343.60" y2="251.70" stroke="#000" stroke-width="1.1" />
<text transform="translate(343.20,260.80) scale(0.94,1)" font-size="8.5" font-weight="bold" text-anchor="middle" >4</text>
<line x1="399.00" y1="248.00" x2="399.00" y2="251.70" stroke="#000" stroke-width="1.1" />
<text transform="translate(398.60,260.80) scale(0.94,1)" font-size="8.5" font-weight="bold" text-anchor="middle" >8</text>
<text transform="translate(371.40,277.00)" font-size="8.5" font-weight="bold" text-anchor="middle" letter-spacing="0.15" >Effectors per Treg</text>
<line x1="339.00" y1="168.00" x2="355.00" y2="168.00" stroke="#000" stroke-width="1.4" />
<polygon points="347.00,165.40 344.30,170.13 349.70,170.13" fill="#000"/>
<line x1="339.00" y1="177.00" x2="355.00" y2="177.00" stroke="#000" stroke-width="1.4" />
<circle cx="347.00" cy="177.00" r="2.7" fill="#000"/>
<text transform="translate(364.20,171.00) scale(0.96,1)" font-size="8.4" font-weight="normal" text-anchor="start" stroke="#000" stroke-width="0.12">Study</text>
<text transform="translate(364.20,180.30) scale(0.96,1)" font-size="8.4" font-weight="normal" text-anchor="start" stroke="#000" stroke-width="0.12">Control</text>
<line x1="343.80" y1="201.20" x2="399.00" y2="223.00" stroke="#000" stroke-width="1.5" />
<line x1="343.80" y1="211.50" x2="399.00" y2="233.00" stroke="#000" stroke-width="1.5" />
<line x1="343.80" y1="197.20" x2="343.80" y2="204.60" stroke="#000" stroke-width="1.3" />
<line x1="341.10" y1="197.20" x2="346.50" y2="197.20" stroke="#000" stroke-width="1.3" />
<line x1="341.10" y1="204.60" x2="346.50" y2="204.60" stroke="#000" stroke-width="1.3" />
<line x1="343.80" y1="208.00" x2="343.80" y2="215.40" stroke="#000" stroke-width="1.3" />
<line x1="341.10" y1="208.00" x2="346.50" y2="208.00" stroke="#000" stroke-width="1.3" />
<line x1="341.10" y1="215.40" x2="346.50" y2="215.40" stroke="#000" stroke-width="1.3" />
<line x1="399.00" y1="219.80" x2="399.00" y2="225.80" stroke="#000" stroke-width="1.3" />
<line x1="396.30" y1="219.80" x2="401.70" y2="219.80" stroke="#000" stroke-width="1.3" />
<line x1="396.30" y1="225.80" x2="401.70" y2="225.80" stroke="#000" stroke-width="1.3" />
<line x1="399.00" y1="228.60" x2="399.00" y2="236.80" stroke="#000" stroke-width="1.3" />
<line x1="396.30" y1="228.60" x2="401.70" y2="228.60" stroke="#000" stroke-width="1.3" />
<line x1="396.30" y1="236.80" x2="401.70" y2="236.80" stroke="#000" stroke-width="1.3" />
<polygon points="343.80,198.70 341.20,203.25 346.40,203.25" fill="#000"/>
<circle cx="343.80" cy="211.50" r="2.65" fill="#000"/>
<polygon points="399.00,220.50 396.40,225.05 401.60,225.05" fill="#000"/>
<circle cx="399.00" cy="233.00" r="2.65" fill="#000"/>
<text transform="translate(342.80,194.80)" font-size="9.5" font-weight="bold" text-anchor="middle" >*</text>
<text transform="translate(399.80,216.80)" font-size="9.5" font-weight="bold" text-anchor="middle" >**</text>
<line x1="30.60" y1="300.60" x2="30.60" y2="383.15" stroke="#000" stroke-width="1.45" />
<line x1="29.95" y1="382.50" x2="124.00" y2="382.50" stroke="#000" stroke-width="1.45" />
<line x1="27.20" y1="382.50" x2="30.60" y2="382.50" stroke="#000" stroke-width="1.1" />
<text transform="translate(26.60,385.50) scale(0.84,1)" font-size="8.8" font-weight="bold" text-anchor="end" >0.0</text>
<line x1="27.20" y1="355.40" x2="30.60" y2="355.40" stroke="#000" stroke-width="1.1" />
<text transform="translate(26.60,358.40) scale(0.84,1)" font-size="8.8" font-weight="bold" text-anchor="end" >0.5</text>
<line x1="27.20" y1="328.30" x2="30.60" y2="328.30" stroke="#000" stroke-width="1.1" />
<text transform="translate(26.60,331.30) scale(0.84,1)" font-size="8.8" font-weight="bold" text-anchor="end" >1.0</text>
<line x1="27.20" y1="301.20" x2="30.60" y2="301.20" stroke="#000" stroke-width="1.1" />
<text transform="translate(26.60,304.20) scale(0.84,1)" font-size="8.8" font-weight="bold" text-anchor="end" >1.5</text>
<text transform="translate(77.50,293.00)" font-size="8.5" font-weight="bold" text-anchor="middle" >Ac-STAT3</text>
<text transform="translate(7.60,373.25) rotate(-90)" font-size="8" font-weight="normal" text-anchor="start" textLength="60.5" lengthAdjust="spacingAndGlyphs" stroke="#000" stroke-width="0.3">Normalized levels</text>
<rect x="35.50" y="359.60" width="20.90" height="22.90" fill="#fff" stroke="#000" stroke-width="1.2"/>
<line x1="46.40" y1="351.40" x2="46.40" y2="359.00" stroke="#000" stroke-width="1.1" />
<line x1="41.00" y1="351.40" x2="51.80" y2="351.40" stroke="#000" stroke-width="1.1" />
<rect x="67.60" y="332.60" width="20.80" height="49.90" fill="#000"/>
<line x1="78.00" y1="327.40" x2="78.00" y2="333.00" stroke="#000" stroke-width="1.1" />
<line x1="72.00" y1="327.40" x2="83.40" y2="327.40" stroke="#000" stroke-width="1.1" />
<rect x="98.00" y="338.60" width="21.00" height="43.90" fill="#000"/>
<line x1="108.60" y1="327.40" x2="108.60" y2="339.00" stroke="#000" stroke-width="1.1" />
<line x1="103.00" y1="327.40" x2="114.40" y2="327.40" stroke="#000" stroke-width="1.1" />
<text transform="translate(46.00,393.60) scale(0.98,1)" font-size="8.5" font-weight="bold" text-anchor="middle" >Control</text>
<text transform="translate(78.20,393.60) scale(0.93,1)" font-size="8.5" font-weight="bold" text-anchor="middle" >Day 30</text>
<text transform="translate(109.30,393.60) scale(0.93,1)" font-size="8.5" font-weight="bold" text-anchor="middle" >Day 100</text>
<line x1="46.40" y1="382.50" x2="46.40" y2="386.20" stroke="#000" stroke-width="1.1" />
<line x1="78.00" y1="382.50" x2="78.00" y2="386.20" stroke="#000" stroke-width="1.1" />
<line x1="108.60" y1="382.50" x2="108.60" y2="386.20" stroke="#000" stroke-width="1.1" />
<line x1="90.60" y1="385.90" x2="93.40" y2="379.10" stroke="#000" stroke-width="1.1" />
<line x1="92.80" y1="385.90" x2="95.60" y2="379.10" stroke="#000" stroke-width="1.1" />
<text transform="translate(61.60,307.00) scale(0.9,1)" font-size="8" font-weight="normal" text-anchor="middle" stroke="#000" stroke-width="0.15">p=0.004</text>
<polyline points="43.60,316.20 43.60,313.00 77.00,313.00 77.00,316.20" fill="none" stroke="#000" stroke-width="1.3"/>
<line x1="149.90" y1="304.00" x2="149.90" y2="385.65" stroke="#000" stroke-width="1.45" />
<line x1="149.25" y1="385.00" x2="241.00" y2="385.00" stroke="#000" stroke-width="1.45" />
<line x1="146.50" y1="385.00" x2="149.90" y2="385.00" stroke="#000" stroke-width="1.1" />
<text transform="translate(145.90,388.00) scale(0.84,1)" font-size="8.8" font-weight="bold" text-anchor="end" >0.0</text>
<line x1="146.50" y1="364.90" x2="149.90" y2="364.90" stroke="#000" stroke-width="1.1" />
<text transform="translate(145.90,367.90) scale(0.84,1)" font-size="8.8" font-weight="bold" text-anchor="end" >0.3</text>
<line x1="146.50" y1="344.80" x2="149.90" y2="344.80" stroke="#000" stroke-width="1.1" />
<text transform="translate(145.90,347.80) scale(0.84,1)" font-size="8.8" font-weight="bold" text-anchor="end" >0.6</text>
<line x1="146.50" y1="324.70" x2="149.90" y2="324.70" stroke="#000" stroke-width="1.1" />
<text transform="translate(145.90,327.70) scale(0.84,1)" font-size="8.8" font-weight="bold" text-anchor="end" >0.9</text>
<line x1="146.50" y1="304.60" x2="149.90" y2="304.60" stroke="#000" stroke-width="1.1" />
<text transform="translate(145.90,307.60) scale(0.84,1)" font-size="8.8" font-weight="bold" text-anchor="end" >1.2</text>
<text transform="translate(196.00,293.30)" font-size="8.5" font-weight="bold" text-anchor="middle" >P-STAT3</text>
<rect x="154.70" y="331.20" width="20.70" height="53.80" fill="#fff" stroke="#000" stroke-width="1.2"/>
<line x1="165.00" y1="327.00" x2="165.00" y2="330.60" stroke="#000" stroke-width="1.1" />
<line x1="160.00" y1="327.00" x2="170.00" y2="327.00" stroke="#000" stroke-width="1.1" />
<rect x="185.00" y="331.40" width="21.40" height="53.60" fill="#000"/>
<line x1="195.70" y1="322.00" x2="195.70" y2="332.00" stroke="#000" stroke-width="1.1" />
<line x1="190.00" y1="322.00" x2="201.20" y2="322.00" stroke="#000" stroke-width="1.1" />
<rect x="216.00" y="331.40" width="21.00" height="53.60" fill="#000"/>
<line x1="226.50" y1="325.00" x2="226.50" y2="332.00" stroke="#000" stroke-width="1.1" />
<line x1="221.00" y1="325.00" x2="232.00" y2="325.00" stroke="#000" stroke-width="1.1" />
<text transform="translate(165.00,396.30) scale(0.98,1)" font-size="8.5" font-weight="bold" text-anchor="middle" >Control</text>
<text transform="translate(196.50,396.30) scale(0.93,1)" font-size="8.5" font-weight="bold" text-anchor="middle" >Day 30</text>
<text transform="translate(226.80,396.30) scale(0.93,1)" font-size="8.5" font-weight="bold" text-anchor="middle" >Day 100</text>
<line x1="165.00" y1="385.00" x2="165.00" y2="388.70" stroke="#000" stroke-width="1.1" />
<line x1="195.70" y1="385.00" x2="195.70" y2="388.70" stroke="#000" stroke-width="1.1" />
<line x1="226.50" y1="385.00" x2="226.50" y2="388.70" stroke="#000" stroke-width="1.1" />
<line x1="208.60" y1="388.40" x2="211.40" y2="381.60" stroke="#000" stroke-width="1.1" />
<line x1="210.80" y1="388.40" x2="213.60" y2="381.60" stroke="#000" stroke-width="1.1" />
<text transform="translate(180.30,309.30) scale(0.9,1)" font-size="8" font-weight="normal" text-anchor="middle" stroke="#000" stroke-width="0.15">p&gt;0.99</text>
<polyline points="164.40,317.80 164.40,314.40 196.00,314.40 196.00,317.80" fill="none" stroke="#000" stroke-width="1.3"/>
<line x1="289.90" y1="298.60" x2="289.90" y2="383.15" stroke="#000" stroke-width="1.45" />
<line x1="289.25" y1="382.50" x2="373.60" y2="382.50" stroke="#000" stroke-width="1.45" />
<line x1="286.50" y1="382.50" x2="289.90" y2="382.50" stroke="#000" stroke-width="1.1" />
<text transform="translate(285.70,385.50) scale(0.86,1)" font-size="8.8" font-weight="bold" text-anchor="end" >0</text>
<line x1="286.50" y1="354.70" x2="289.90" y2="354.70" stroke="#000" stroke-width="1.1" />
<text transform="translate(285.70,357.70) scale(0.86,1)" font-size="8.8" font-weight="bold" text-anchor="end" >2</text>
<line x1="286.50" y1="326.90" x2="289.90" y2="326.90" stroke="#000" stroke-width="1.1" />
<text transform="translate(285.70,329.90) scale(0.86,1)" font-size="8.8" font-weight="bold" text-anchor="end" >4</text>
<line x1="286.50" y1="299.10" x2="289.90" y2="299.10" stroke="#000" stroke-width="1.1" />
<text transform="translate(285.70,302.10) scale(0.86,1)" font-size="8.8" font-weight="bold" text-anchor="end" >6</text>
<text transform="translate(266.00,378.60) rotate(-90)" font-size="8" font-weight="normal" text-anchor="start" textLength="72" lengthAdjust="spacingAndGlyphs" stroke="#000" stroke-width="0.3">Relative IDO (2<tspan font-size="6.2" dy="-3" stroke-width="0.1">-&#916;&#916;Ct</tspan><tspan dy="3">)</tspan></text>
<rect x="296.70" y="372.40" width="27.70" height="10.10" fill="#fff" stroke="#000" stroke-width="1.2"/>
<line x1="310.70" y1="366.00" x2="310.70" y2="372.00" stroke="#000" stroke-width="1.1" />
<line x1="303.60" y1="366.00" x2="318.00" y2="366.00" stroke="#000" stroke-width="1.1" />
<rect x="338.00" y="347.60" width="28.40" height="34.90" fill="#000"/>
<line x1="352.30" y1="322.40" x2="352.30" y2="348.00" stroke="#000" stroke-width="1.1" />
<line x1="345.40" y1="322.40" x2="359.40" y2="322.40" stroke="#000" stroke-width="1.1" />
<text transform="translate(310.60,393.70) scale(0.99,1)" font-size="8.5" font-weight="bold" text-anchor="middle" >Control</text>
<text transform="translate(353.00,393.70) scale(0.93,1)" font-size="8.5" font-weight="bold" text-anchor="middle" >Day 100</text>
<line x1="310.70" y1="382.50" x2="310.70" y2="386.20" stroke="#000" stroke-width="1.1" />
<line x1="352.30" y1="382.50" x2="352.30" y2="386.20" stroke="#000" stroke-width="1.1" />
<text transform="translate(332.00,308.60) scale(0.9,1)" font-size="8" font-weight="normal" text-anchor="middle" stroke="#000" stroke-width="0.15">p=0.02</text>
<polyline points="309.40,317.80 309.40,314.40 352.00,314.40 352.00,317.80" fill="none" stroke="#000" stroke-width="1.3"/>
</svg>
</body></html>
